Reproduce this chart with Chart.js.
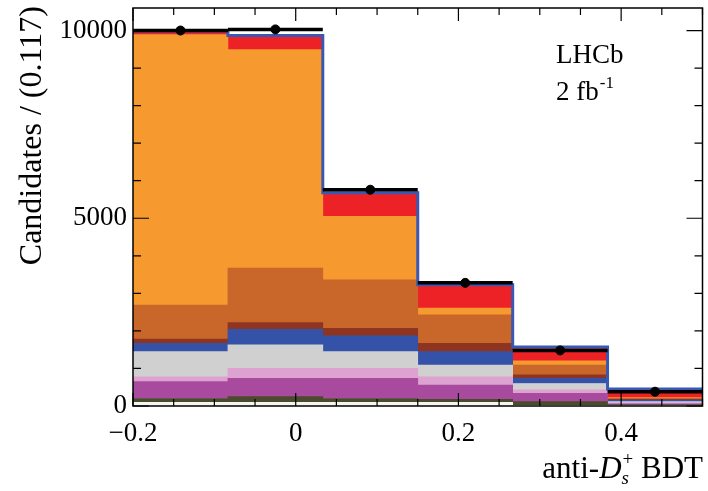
<!DOCTYPE html>
<html>
<head>
<meta charset="utf-8">
<script src="https://cdn.jsdelivr.net/npm/chart.js@4.4.1/dist/chart.umd.min.js"></script>
<style>
  html, body { margin: 0; padding: 0; background: #fff; }
</style>
</head>
<body>
<canvas id="chart" width="708" height="491"></canvas>
<script>
(function () {
  const FONT = '"Liberation Serif", "DejaVu Serif", serif';

  // bin edges of the anti-Ds BDT histogram
  const binEdges = [-0.2, -0.0833, 0.0333, 0.15, 0.2667, 0.3833, 0.5];
  const xTickValues = [-0.2, 0, 0.2, 0.4];
  const yTickValues = [0, 5000, 10000];

  // stacked fit components, bottom to top (candidates per bin)
  const compWhite = [100, 100, 100, 100, 20, 10];
  const compOlive = [100, 150, 100, 80, 95, 20];
  const compMagenta = [450, 490, 540, 380, 225, 30];
  const compPink = [130, 260, 260, 220, 90, 25];
  const compGrey = [670, 630, 450, 310, 170, 30];
  const compBlue = [220, 410, 420, 360, 140, 45];
  const compDarkRed = [110, 180, 200, 220, 90, 20];
  const compBrown = [910, 1450, 1290, 760, 260, 25];
  const compOrange = [7200, 5820, 1690, 180, 110, 20];
  const compRed = [100, 380, 630, 620, 370, 225];

  // data points
  const dataCounts = [10000, 10030, 5760, 3280, 1480, 380];

  const components = [
    { name: "white", values: compWhite, color: "#f4f4f0" },
    { name: "olive", values: compOlive, color: "#4b4a2c" },
    { name: "magenta", values: compMagenta, color: "#a84b9f" },
    { name: "pink", values: compPink, color: "#dea2d0" },
    { name: "grey", values: compGrey, color: "#d0d0d0" },
    { name: "blue", values: compBlue, color: "#3453a8" },
    { name: "darkred", values: compDarkRed, color: "#8f3421" },
    { name: "brown", values: compBrown, color: "#c9672a" },
    { name: "orange", values: compOrange, color: "#f6992f" },
    { name: "red", values: compRed, color: "#ec2227" },
  ];

  const centers = binEdges.slice(0, -1).map((e, i) => (e + binEdges[i + 1]) / 2);
  const totals = centers.map((_, i) => components.reduce((s, c) => s + c.values[i], 0));

  const barSets = components.map((c) => ({
    type: "bar",
    label: c.name,
    stack: "fit",
    data: c.values.map((v, i) => ({ x: centers[i], y: v })),
    backgroundColor: c.color,
    borderWidth: 0,
    barPercentage: 1,
    categoryPercentage: 1,
    order: 3,
  }));

  const outlinePts = binEdges.map((e, i) => ({ x: e, y: totals[Math.min(i, totals.length - 1)] }));

  const outlineSet = {
    type: "line",
    label: "total fit",
    stack: "outline",
    data: outlinePts,
    stepped: "before",
    borderColor: "#3a57b2",
    borderWidth: 3,
    pointRadius: 0,
    fill: false,
    order: 2,
  };

  const dataSet = {
    type: "scatter",
    label: "data",
    stack: "data",
    data: dataCounts.map((v, i) => ({ x: centers[i], y: v })),
    backgroundColor: "#000",
    borderColor: "#000",
    pointRadius: 4.5,
    order: 1,
  };

  // horizontal bin-width bars on the data points
  const dataBars = {
    id: "dataBars",
    afterDatasetsDraw(chart) {
      const { ctx, scales: { x, y } } = chart;
      ctx.save();
      ctx.strokeStyle = "#000";
      dataCounts.forEach((v, i) => {
        const py = y.getPixelForValue(v);
        ctx.lineWidth = 3.5;
        ctx.beginPath();
        ctx.moveTo(x.getPixelForValue(binEdges[i]), py);
        ctx.lineTo(x.getPixelForValue(binEdges[i + 1]), py);
        ctx.stroke();
        const err = Math.sqrt(v);
        ctx.lineWidth = 2;
        ctx.beginPath();
        ctx.moveTo(x.getPixelForValue(centers[i]), y.getPixelForValue(v - err));
        ctx.lineTo(x.getPixelForValue(centers[i]), y.getPixelForValue(v + err));
        ctx.stroke();
      });
      ctx.restore();
    },
  };

  // frame with inward ticks on all four sides
  const frameTicks = {
    id: "frameTicks",
    afterDraw(chart) {
      const { ctx, chartArea: a, scales: { x, y } } = chart;
      ctx.save();
      ctx.strokeStyle = "#000";
      ctx.lineWidth = 1.5;
      ctx.strokeRect(a.left, a.top, a.right - a.left, a.bottom - a.top);
      ctx.lineWidth = 1.2;
      for (let k = -4; k <= 10; k++) {
        const px = x.getPixelForValue(k * 0.05);
        const len = k % 4 === 0 ? 13 : 7;
        ctx.beginPath();
        ctx.moveTo(px, a.bottom);
        ctx.lineTo(px, a.bottom - len);
        ctx.moveTo(px, a.top);
        ctx.lineTo(px, a.top + len);
        ctx.stroke();
      }
      for (let v = 0; v <= y.max; v += 1000) {
        const py = y.getPixelForValue(v);
        const len = v % 5000 === 0 ? 16 : 8;
        ctx.beginPath();
        ctx.moveTo(a.left, py);
        ctx.lineTo(a.left + len, py);
        ctx.moveTo(a.right, py);
        ctx.lineTo(a.right - len, py);
        ctx.stroke();
      }
      ctx.restore();
    },
  };

  const texts = {
    id: "texts",
    afterDraw(chart) {
      const ctx = chart.ctx;
      ctx.save();
      ctx.fillStyle = "#000";
      ctx.textBaseline = "alphabetic";

      ctx.font = `27px ${FONT}`;
      ctx.fillText("LHCb", 556, 63);
      ctx.fillText("2 fb", 556, 100);
      const w = ctx.measureText("2 fb").width;
      ctx.font = `17px ${FONT}`;
      ctx.fillText("-1", 556 + w + 1, 88);

      // x title, right aligned to the frame
      const big = 31, small = 19;
      ctx.font = `${big}px ${FONT}`;
      const w1 = ctx.measureText("anti-").width;
      const w3 = ctx.measureText(" BDT").width;
      ctx.font = `italic ${big}px ${FONT}`;
      const w2 = ctx.measureText("D").width;
      ctx.font = `italic ${small}px ${FONT}`;
      const ws = ctx.measureText("s").width;
      ctx.font = `${small}px ${FONT}`;
      const wp = ctx.measureText("+").width;
      const total = w1 + w2 + Math.max(ws, wp) + 1 + w3;
      let xx = 703 - total;
      const base = 478;
      ctx.font = `${big}px ${FONT}`;
      ctx.fillText("anti-", xx, base);
      xx += w1;
      ctx.font = `italic ${big}px ${FONT}`;
      ctx.fillText("D", xx, base);
      xx += w2;
      ctx.font = `italic ${small}px ${FONT}`;
      ctx.fillText("s", xx, base + 6);
      ctx.font = `${small}px ${FONT}`;
      ctx.fillText("+", xx + 1, base - 13);
      xx += Math.max(ws, wp) + 1;
      ctx.font = `${big}px ${FONT}`;
      ctx.fillText(" BDT", xx, base);

      // y title, right-aligned at the top
      ctx.translate(41, 6);
      ctx.rotate(-Math.PI / 2);
      ctx.textAlign = "right";
      ctx.font = `32px ${FONT}`;
      ctx.fillText("Candidates / (0.117)", 0, 0);
      ctx.restore();
    },
  };

  new Chart(document.getElementById("chart"), {
    data: { datasets: [...barSets, outlineSet, dataSet] },
    options: {
      responsive: false,
      animation: false,
      layout: { padding: { top: 8, right: 5, left: 0, bottom: 0 } },
      plugins: { legend: { display: false }, tooltip: { enabled: false } },
      scales: {
        x: {
          type: "linear",
          stacked: true,
          offset: false,
          min: -0.2,
          max: 0.5,
          grid: { display: false, drawTicks: false },
          border: { display: false },
          afterBuildTicks: (scale) => { scale.ticks = xTickValues.map((value) => ({ value })); },
          ticks: {
            padding: 12,
            color: "#000",
            maxRotation: 0,
            autoSkip: false,
            font: { family: FONT, size: 27 },
            callback: (v) => {
              const r = Math.round(v * 10) / 10;
              return r < 0 ? "\u2212" + Math.abs(r) : String(r);
            },
          },
          afterFit: (scale) => {
            scale.height = 85;
            scale.paddingLeft = 0;
            scale.paddingRight = 0;
          },
        },
        y: {
          stacked: true,
          min: 0,
          max: 10600,
          grid: { display: false, drawTicks: false },
          border: { display: false },
          afterBuildTicks: (scale) => { scale.ticks = yTickValues.map((value) => ({ value })); },
          ticks: {
            padding: 6,
            color: "#000",
            autoSkip: false,
            font: { family: FONT, size: 27 },
            callback: (v) => String(v),
          },
          afterFit: (scale) => {
            scale.width = 133;
            scale.paddingTop = 0;
            scale.paddingBottom = 0;
          },
        },
      },
    },
    plugins: [dataBars, frameTicks, texts],
  });
})();
</script>
</body>
</html>
